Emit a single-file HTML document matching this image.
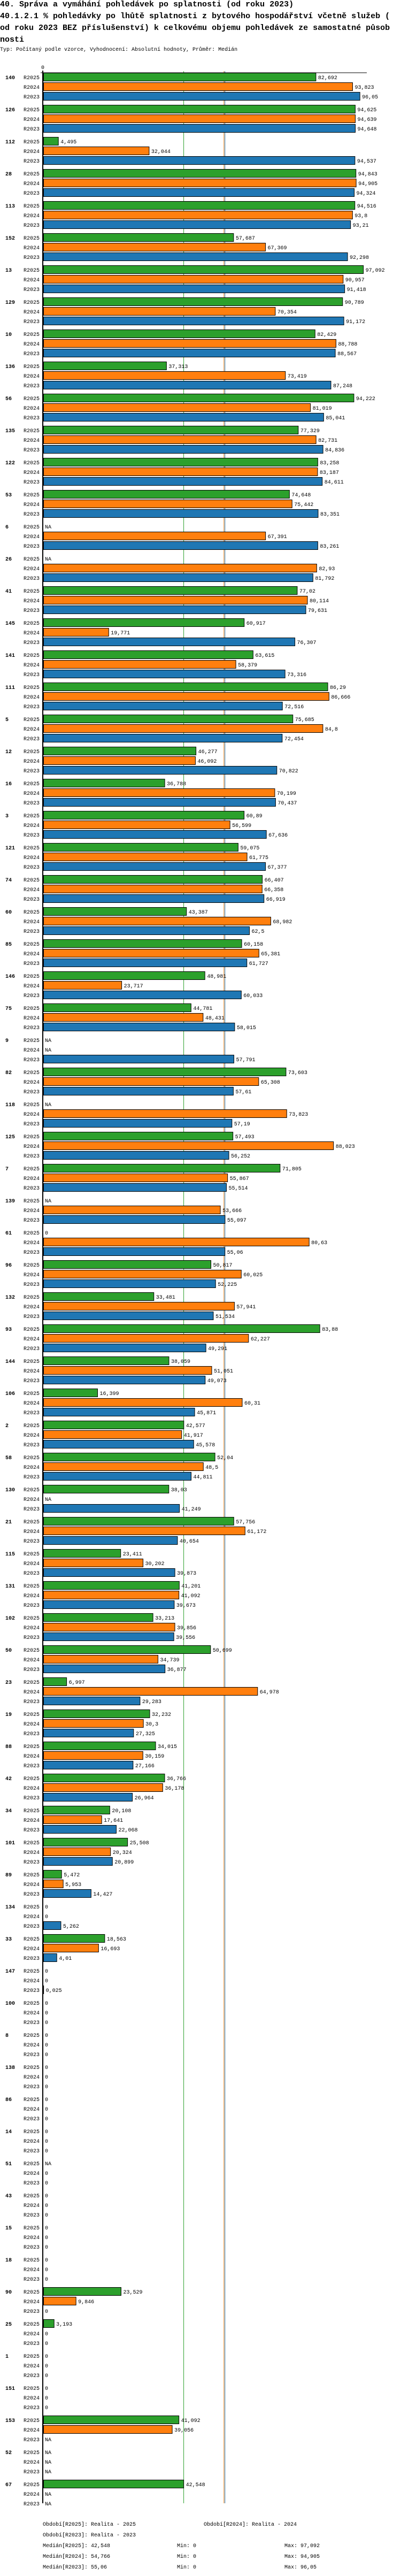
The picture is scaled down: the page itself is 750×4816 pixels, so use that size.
<!DOCTYPE html>
<html><head><meta charset="utf-8">
<style>
html,body{margin:0;padding:0;background:#fff;}
body{width:750px;height:4816px;overflow:hidden;position:relative;}
.t{position:absolute;left:0;font-family:"Liberation Mono",monospace;font-weight:bold;font-size:15px;white-space:pre;color:#000;}
.s{position:absolute;left:0;font-family:"Liberation Mono",monospace;font-size:10px;white-space:pre;}
svg{position:absolute;left:0;top:0;}
svg text{font-family:"Liberation Mono",monospace;font-size:10px;fill:#000;}
</style></head>
<body>
<div class="t" style="top:0px">40. Správa a vymáhání pohledávek po splatnosti (od roku 2023)</div>
<div class="t" style="top:22px">40.1.2.1 % pohledávky po lhůtě splatnosti z bytového hospodářství včetně služeb (</div>
<div class="t" style="top:44px">od roku 2023 BEZ příslušenství) k celkovému objemu pohledávek ze samostatné působ</div>
<div class="t" style="top:66px">nosti</div>
<div class="s" style="top:88px">Typ: Počítaný podle vzorce, Vyhodnocení: Absolutní hodnoty, Průměr: Medián</div>
<svg id="chart" width="750" height="4816"></svg>
<script>
const categories=["140","126","112","28","113","152","13","129","10","136","56","135","122","53","6","26","41","145","141","111","5","12","16","3","121","74","60","85","146","75","9","82","118","125","7","139","61","96","132","93","144","106","2","58","130","21","115","131","102","50","23","19","88","42","34","101","89","134","33","147","100","8","138","86","14","51","43","15","18","90","25","1","151","153","52","67"];
const r2025=[82.692,94.625,4.495,94.843,94.516,57.687,97.092,90.789,82.429,37.313,94.222,77.329,83.258,74.648,null,null,77.02,60.917,63.615,86.29,75.685,46.277,36.788,60.89,59.075,66.407,43.387,60.158,48.981,44.781,null,73.603,null,57.493,71.805,null,0,50.817,33.481,83.88,38.059,16.399,42.577,52.04,38.03,57.756,23.411,41.201,33.213,50.699,6.997,32.232,34.015,36.766,20.108,25.508,5.472,0,18.563,0,0,0,0,0,0,null,0,0,0,23.529,3.193,0,0,41.092,null,42.548];
const r2024=[93.823,94.639,32.044,94.905,93.8,67.369,90.957,70.354,88.788,73.419,81.019,82.731,83.187,75.442,67.391,82.93,80.114,19.771,58.379,86.666,84.8,46.092,70.199,56.599,61.775,66.358,68.982,65.381,23.717,48.431,null,65.308,73.823,88.023,55.867,53.666,80.63,60.025,57.941,62.227,51.051,60.31,41.917,48.5,null,61.172,30.202,41.092,39.856,34.739,64.978,30.3,30.159,36.178,17.641,20.324,5.953,0,16.693,0,0,0,0,0,0,0,0,0,0,9.846,0,0,0,39.056,null,null];
const r2023=[96.05,94.648,94.537,94.324,93.21,92.298,91.418,91.172,88.567,87.248,85.041,84.836,84.611,83.351,83.261,81.792,79.631,76.307,73.316,72.516,72.454,70.822,70.437,67.636,67.377,66.919,62.5,61.727,60.033,58.015,57.791,57.61,57.19,56.252,55.514,55.097,55.06,52.225,51.534,49.291,49.073,45.871,45.578,44.811,41.249,40.654,39.873,39.673,39.556,36.877,29.283,27.325,27.166,26.964,22.068,20.899,14.427,5.262,4.01,0.025,0,0,0,0,0,0,0,0,0,0,0,0,0,null,null,null];
const seriesNames=["R2025","R2024","R2023"];
const medians=[42.548,54.766,55.06];
const mins=[0,0,0];
const maxs=[97.092,94.905,96.05];

const colors=["#2ca02c","#ff7f0e","#1f77b4"];
const NS="http://www.w3.org/2000/svg";
const svg=document.getElementById("chart");
const X0=81.5, SCALE=6.16, TOP=136, GROUP=60, ROW=18, BAR=16;
const x=v=>X0+v*SCALE;
const yRow=(g,s)=>TOP+g*GROUP+s*ROW;
function mk(tag,attrs){const e=document.createElementNS(NS,tag);for(const k in attrs)e.setAttribute(k,attrs[k]);svg.appendChild(e);return e;}
const fmt=v=>String(v).replace('.',',');
const bottom=TOP+categories.length*GROUP-16;

// median lines (behind bars)
medians.forEach((m,i)=>{
  const l=mk("line",{x1:x(m),x2:x(m),y1:TOP-3,y2:bottom,stroke:colors[i],"stroke-width":1});
  
  
});

const series=[r2025,r2024,r2023];
categories.forEach((c,g)=>{
  const lab=mk("text",{x:10,y:yRow(g,0)+12,"font-weight":"bold"});
  lab.textContent=c;
  
  
  series.forEach((arr,s)=>{
    const y=yRow(g,s);
    const sl=mk("text",{x:74,y:y+12,"text-anchor":"end"});
    sl.textContent=seriesNames[s];
    
    
    const v=arr[g];
    if(v!==null && v>0){
      const r=mk("rect",{x:X0,y:y+0.5,width:v*SCALE,height:BAR-1,fill:colors[s],stroke:"#000","stroke-width":1});
      
      
    }
    const tx=(v!==null && v>0)?x(v)+4:84;
    const vt=mk("text",{x:tx,y:y+12});
    vt.textContent=v===null?"NA":fmt(v);
    
    
  });
});

// axes
const ax=mk("line",{x1:80,x2:80,y1:132,y2:bottom,stroke:"#000","stroke-width":2});


const tx0=mk("line",{x1:76,x2:686,y1:136,y2:136,stroke:"#000","stroke-width":1});


const z=mk("text",{x:77,y:129});
z.textContent="0";



// legend
const ly=4722;
const leg=[[80,ly,"Období[R2025]: Realita - 2025"],[381,ly,"Období[R2024]: Realita - 2024"],[80,ly+20,"Období[R2023]: Realita - 2023"]];
leg.forEach(l=>{const t=mk("text",{x:l[0],y:l[1]});t.textContent=l[2];
  
  });
seriesNames.forEach((n,i)=>{
  const yy=ly+40+i*20;
  const a=mk("text",{x:80,y:yy});a.textContent="Medián["+n+"]: "+fmt(medians[i]);
  
  
  const b=mk("text",{x:331,y:yy});b.textContent="Min: "+fmt(mins[i]);
  
  
  const d=mk("text",{x:532,y:yy});d.textContent="Max: "+fmt(maxs[i]);
  
  
});
</script>
</body></html>
